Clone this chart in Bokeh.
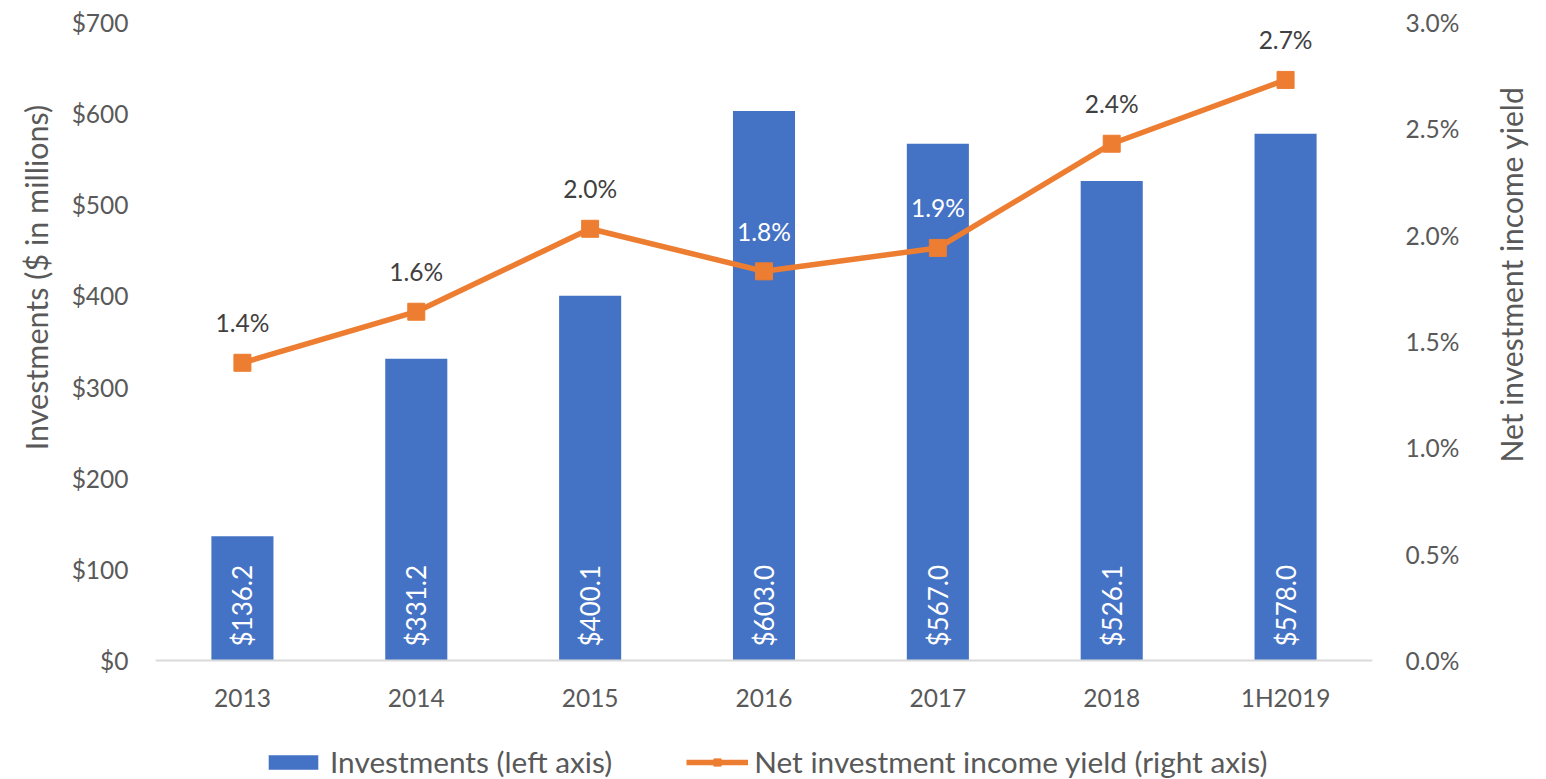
import math
from bokeh.plotting import figure
from bokeh.models import (Range1d, FactorRange, LinearAxis, FixedTicker, NumeralTickFormatter,
                          PrintfTickFormatter, Legend, LegendItem, Label, ColumnDataSource)
from bokeh.core.properties import value
from bokeh.embed import file_html
from bokeh.resources import INLINE

# ---------------- data ----------------
categories = ["2013", "2014", "2015", "2016", "2017", "2018", "1H2019"]
investments = [136.2, 331.2, 400.1, 603.0, 567.0, 526.1, 578.0]          # $ millions
yield_pct = [1.40, 1.64, 2.03, 1.83, 1.94, 2.43, 2.73]                  # percent
left_ticks = [0, 100, 200, 300, 400, 500, 600, 700]
right_ticks = [0.0, 0.5, 1.0, 1.5, 2.0, 2.5, 3.0]

# ---------------- style ----------------
FONT = "Lato"
BLUE = "#4472C4"
ORANGE = "#ED7D31"
GRAY = "#595959"
DARK = "#404040"
yield_label_colors = [DARK, DARK, DARK, "white", "white", DARK, DARK]

# plot geometry: value area is 638 px tall; 119 px below the zero line hold the
# category labels and the legend (kept inside the frame so the legend renders)
PLOT_H = 638
BELOW_H = 119
LEFT_MAX = 700
RIGHT_MAX = 3.0

src = ColumnDataSource(dict(
    cat=categories,
    inv=investments,
    yld=yield_pct,
    inv_lbl=[f"${v:.1f}" for v in investments],
    yld_lbl=[f"{v:.1f}%" for v in yield_pct],
    yld_col=yield_label_colors,
))

p = figure(x_range=FactorRange(*categories),
           y_range=Range1d(-LEFT_MAX * BELOW_H / PLOT_H, LEFT_MAX),
           frame_width=1217, frame_height=PLOT_H + BELOW_H,
           min_border_left=155, min_border_right=174, min_border_top=22, min_border_bottom=0,
           output_backend="svg", toolbar_location=None)
p.extra_y_ranges = {"yield": Range1d(-RIGHT_MAX * BELOW_H / PLOT_H, RIGHT_MAX)}
p.outline_line_color = None
p.xgrid.grid_line_color = None
p.ygrid.grid_line_color = None
p.background_fill_color = "white"
p.border_fill_color = "white"

# bars
bars = p.vbar(x="cat", top="inv", width=0.357, source=src, fill_color=BLUE, line_color=None)
p.text(x="cat", y=0, text="inv_lbl", source=src, angle=math.pi / 2, text_align="left",
       text_baseline="middle", y_offset=-14, text_color="white",
       text_font=value(FONT), text_font_size="26px")

# line
ln = p.line(x="cat", y="yld", source=src, y_range_name="yield", line_color=ORANGE, line_width=5.5)
sq = p.scatter(x="cat", y="yld", source=src, y_range_name="yield", marker="square", size=17,
               fill_color=ORANGE, line_color=ORANGE)
p.text(x="cat", y="yld", text="yld_lbl", source=src, y_range_name="yield", text_align="center",
       text_baseline="middle", y_offset=-40, text_color="yld_col",
       text_font=value(FONT), text_font_size="24.5px")

# axes
xa = p.xaxis[0]
xa.fixed_location = 0
xa.axis_line_color = "#D9D9D9"
xa.axis_line_width = 2
xa.major_tick_line_color = None
xa.minor_tick_line_color = None
xa.major_label_text_font = FONT
xa.major_label_text_font_size = "24.5px"
xa.major_label_text_color = GRAY
xa.major_label_standoff = 16

ya = p.yaxis[0]
ya.ticker = FixedTicker(ticks=left_ticks)
ya.formatter = NumeralTickFormatter(format="$0")
ya.axis_line_color = None
ya.major_tick_line_color = None
ya.minor_tick_line_color = None
ya.major_label_text_font = FONT
ya.major_label_text_font_size = "24.5px"
ya.major_label_text_color = GRAY
ya.major_label_standoff = 21

ra = LinearAxis(y_range_name="yield", ticker=FixedTicker(ticks=right_ticks),
                formatter=PrintfTickFormatter(format="%.1f%%"))
ra.axis_line_color = None
ra.major_tick_line_color = None
ra.minor_tick_line_color = None
ra.major_label_text_font = FONT
ra.major_label_text_font_size = "24.5px"
ra.major_label_text_color = GRAY
ra.major_label_standoff = 27
p.add_layout(ra, "right")

# axis titles
p.add_layout(Label(x=35, y=277, x_units="canvas", y_units="canvas", text="Investments ($ in millions)",
                   angle=math.pi / 2, text_align="center", text_baseline="middle",
                   text_font=FONT, text_font_size="30.5px", text_color=GRAY), "left")
p.add_layout(Label(x=1510, y=274, x_units="canvas", y_units="canvas", text="Net investment income yield",
                   angle=math.pi / 2, text_align="center", text_baseline="middle",
                   text_font=FONT, text_font_size="30px", text_color=GRAY), "right")

# legend
legend = Legend(items=[LegendItem(label="Investments (left axis)", renderers=[bars]),
                       LegendItem(label="Net investment income yield (right axis)", renderers=[ln, sq])],
                orientation="horizontal", location=(107, 0),
                glyph_width=62, glyph_height=18, label_standoff=6, spacing=74,
                padding=0, margin=0, border_line_color=None, background_fill_alpha=0,
                label_text_font=FONT, label_text_font_size="29.8px", label_text_color=GRAY)
p.add_layout(legend, "center")

open("out.html", "w").write(file_html(p, INLINE))
